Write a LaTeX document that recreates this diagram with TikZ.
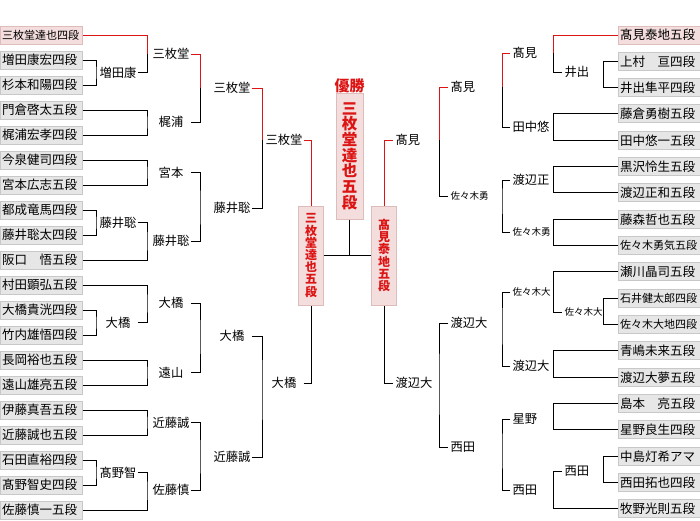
\documentclass[tikz,border=0pt]{standalone}
\usepackage{fontspec}
\setmainfont{Noto Sans CJK JP}
\usepackage{tikz}
\usetikzlibrary{positioning, calc}

\definecolor{winred}{RGB}{220,20,20}
\definecolor{namegray}{RGB}{230,230,230}
\definecolor{nameedge}{RGB}{200,200,200}
\definecolor{namepink}{RGB}{243,221,221}
\definecolor{pinkedge}{RGB}{222,188,188}

\tikzset{
  player/.style={draw=nameedge, fill=namegray, text width=78pt, inner xsep=2pt, inner ysep=0pt,
    minimum height=18pt, align=left, font=\fontsize{12.5}{12.5}\selectfont},
  playerlong/.style={player, font=\fontsize{11}{11}\selectfont},
  champ/.style={player, draw=pinkedge, fill=namepink},
  champlong/.style={champ, font=\fontsize{11}{11}\selectfont},
  lname/.style={minimum width=38pt, inner sep=1pt, font=\fontsize{12.3}{12.3}\selectfont},
  rname/.style={anchor=west, inner xsep=2pt, inner ysep=1pt, font=\fontsize{12.3}{12.3}\selectfont},
  smallname/.style={font=\fontsize{9.5}{9.5}\selectfont},
  semi/.style={draw=pinkedge, fill=namepink, minimum width=25pt, minimum height=99pt, inner sep=0pt,
    align=center, text=winred, font=\fontsize{12}{12.2}\selectfont\bfseries},
  win/.style={winred},
}

\begin{document}
\begin{tikzpicture}[x=1pt, y=-1pt, line width=1pt]
  \useasboundingbox (0,0) rectangle (700,520);

  \foreach \s/\t [count=\i] in {
    champlong/三枚堂達也四段, player/増田康宏四段, player/杉本和陽四段,
    player/門倉啓太五段, player/梶浦宏孝四段, player/今泉健司四段,
    player/宮本広志五段, player/都成竜馬四段, player/藤井聡太四段,
    player/阪口　悟五段, player/村田顕弘五段, player/大橋貴洸四段,
    player/竹内雄悟四段, player/長岡裕也五段, player/遠山雄亮五段,
    player/伊藤真吾五段, player/近藤誠也五段, player/石田直裕四段,
    player/髙野智史四段, player/佐藤慎一五段}
    \node[\s] (L\i) at (41,{35+25*(\i-1)}) {\t};

  \foreach \s/\t [count=\i] in {
    champ/髙見泰地五段, player/上村　亘四段, player/井出隼平四段,
    player/藤倉勇樹五段, player/田中悠一五段, player/黒沢怜生五段,
    player/渡辺正和五段, player/藤森哲也五段, playerlong/佐々木勇気五段,
    player/瀬川晶司五段, playerlong/石井健太郎四段, playerlong/佐々木大地四段,
    player/青嶋未来五段, player/渡辺大夢五段, player/島本　亮五段,
    player/星野良生四段, player/中島灯希アマ, player/西田拓也四段,
    player/牧野光則五段}
    \node[\s] (R\i) at (659,{35+26.33*(\i-1)}) {\t};

  % left half
  \node[lname] (a1) at (118,72.5) {増田康};
  \node[lname] (a2) at (118,222.5) {藤井聡};
  \node[lname] (a3) at (118,322.5) {大橋};
  \node[lname] (a4) at (118,472.5) {髙野智};
  \node[lname] (b1) at (171,54) {三枚堂};
  \node[lname] (b2) at (171,122) {梶浦};
  \node[lname] (b3) at (171,172.5) {宮本};
  \node[lname] (b4) at (171,241) {藤井聡};
  \node[lname] (b5) at (171,303) {大橋};
  \node[lname] (b6) at (171,372.5) {遠山};
  \node[lname] (b7) at (171,422.5) {近藤誠};
  \node[lname] (b8) at (171,490) {佐藤慎};
  \node[lname] (c1) at (232,88) {三枚堂};
  \node[lname] (c2) at (232,208) {藤井聡};
  \node[lname] (c3) at (232,336) {大橋};
  \node[lname] (c4) at (232,457) {近藤誠};
  \node[lname] (d1) at (284,140) {三枚堂};
  \node[lname] (d2) at (284,383) {大橋};

  \coordinate (ja1) at (96,72.5);
  \coordinate (ja2) at (96,222.5);
  \coordinate (ja3) at (96,322.5);
  \coordinate (ja4) at (96,472.5);
  \coordinate (jb1) at (147,54);
  \coordinate (jb2) at (147,122);
  \coordinate (jb3) at (147,172.5);
  \coordinate (jb4) at (147,241);
  \coordinate (jb5) at (147,303);
  \coordinate (jb6) at (147,372.5);
  \coordinate (jb7) at (147,422.5);
  \coordinate (jb8) at (147,490);
  \coordinate (jc1) at (200,88);
  \coordinate (jc2) at (200,208);
  \coordinate (jc3) at (200,336);
  \coordinate (jc4) at (200,457);
  \coordinate (jd1) at (262,140);
  \coordinate (jd2) at (262,383);

  \draw (L2.east) -| (ja1) |- (L3.east);
  \draw (L8.east) -| (ja2) |- (L9.east);
  \draw (L12.east) -| (ja3) |- (L13.east);
  \draw (L18.east) -| (ja4) |- (L19.east);

  \draw[win] (L1.east) -| (jb1);
  \draw (jb1) |- (a1.east);
  \draw (L4.east) -| (jb2) |- (L5.east);
  \draw (L6.east) -| (jb3) |- (L7.east);
  \draw (a2.east) -| (jb4) |- (L10.east);
  \draw (L11.east) -| (jb5) |- (a3.east);
  \draw (L14.east) -| (jb6) |- (L15.east);
  \draw (L16.east) -| (jb7) |- (L17.east);
  \draw (a4.east) -| (jb8) |- (L20.east);

  \draw[win] (b1.east) -| (jc1);
  \draw (jc1) |- (b2.east);
  \draw (b3.east) -| (jc2) |- (b4.east);
  \draw (b5.east) -| (jc3) |- (b6.east);
  \draw (b7.east) -| (jc4) |- (b8.east);

  \draw[win] (c1.east) -| (jd1);
  \draw (jd1) |- (c2.east);
  \draw (c3.east) -| (jd2) |- (c4.east);

  % right half
  \node[rname] (p1) at (562,72) {井出};
  \node[rname, smallname] (p2) at (562,312) {佐々木大};
  \node[rname] (p3) at (562,471) {西田};
  \node[rname] (q1) at (510,53) {髙見};
  \node[rname] (q2) at (510,127) {田中悠};
  \node[rname] (q3) at (510,180) {渡辺正};
  \node[rname, smallname] (q4) at (510,232) {佐々木勇};
  \node[rname, smallname] (q5) at (510,292) {佐々木大};
  \node[rname] (q6) at (510,366) {渡辺大};
  \node[rname] (q7) at (510,419) {星野};
  \node[rname] (q8) at (510,490) {西田};
  \node[rname] (r1) at (448,87) {髙見};
  \node[rname, smallname] (r2) at (448,196) {佐々木勇};
  \node[rname] (r3) at (448,323) {渡辺大};
  \node[rname] (r4) at (448,447) {西田};
  \node[rname] (s1) at (393,140) {髙見};
  \node[rname] (s2) at (393,383) {渡辺大};

  \coordinate (kp1) at (603,72);
  \coordinate (kp2) at (603,312);
  \coordinate (kp3) at (603,471);
  \coordinate (kq1) at (553,53);
  \coordinate (kq2) at (553,127);
  \coordinate (kq3) at (553,180);
  \coordinate (kq4) at (553,232);
  \coordinate (kq5) at (553,292);
  \coordinate (kq6) at (553,366);
  \coordinate (kq7) at (553,419);
  \coordinate (kq8) at (553,490);
  \coordinate (kr1) at (502,87);
  \coordinate (kr2) at (502,196);
  \coordinate (kr3) at (502,323);
  \coordinate (kr4) at (502,447);
  \coordinate (ks1) at (439,140);
  \coordinate (ks2) at (439,383);

  \draw (R2.west) -| (kp1) |- (R3.west);
  \draw (R11.west) -| (kp2) |- (R12.west);
  \draw (R17.west) -| (kp3) |- (R18.west);

  \draw[win] (R1.west) -| (kq1);
  \draw (kq1) |- (p1.west);
  \draw (R4.west) -| (kq2) |- (R5.west);
  \draw (R6.west) -| (kq3) |- (R7.west);
  \draw (R8.west) -| (kq4) |- (R9.west);
  \draw (R10.west) -| (kq5) |- (p2.west);
  \draw (R13.west) -| (kq6) |- (R14.west);
  \draw (R15.west) -| (kq7) |- (R16.west);
  \draw (p3.west) -| (kq8) |- (R19.west);

  \draw[win] (q1.west) -| (kr1);
  \draw (kr1) |- (q2.west);
  \draw (q3.west) -| (kr2) |- (q4.west);
  \draw (q5.west) -| (kr3) |- (q6.west);
  \draw (q7.west) -| (kr4) |- (q8.west);

  \draw[win] (r1.west) -| (ks1);
  \draw (ks1) |- (r2.west);
  \draw (r3.west) -| (ks2) |- (r4.west);

  % semifinal and final
  \node[semi] (SL) at (311,255.5) {三\\枚\\堂\\達\\也\\五\\段};
  \node[semi] (SR) at (384,255.5) {髙\\見\\泰\\地\\五\\段};
  \node[semi, minimum width=27pt, minimum height=126pt, font=\fontsize{15.5}{15.7}\selectfont\bfseries]
    (F) at (349.5,156) {三\\枚\\堂\\達\\也\\五\\段};
  \node[text=winred, inner sep=1pt, font=\fontsize{15}{15}\selectfont\bfseries] (title) at (349.5,86) {優勝};

  \draw[win] (d1.east) -| (SL.north);
  \draw (d2.east) -| (SL.south);
  \draw[win] (s1.west) -| (SR.north);
  \draw (s2.west) -| (SR.south);
  \draw (SL.east) -- (SR.west);
  \draw (F.south) -- (F.south |- SL.east);
\end{tikzpicture}
\end{document}
